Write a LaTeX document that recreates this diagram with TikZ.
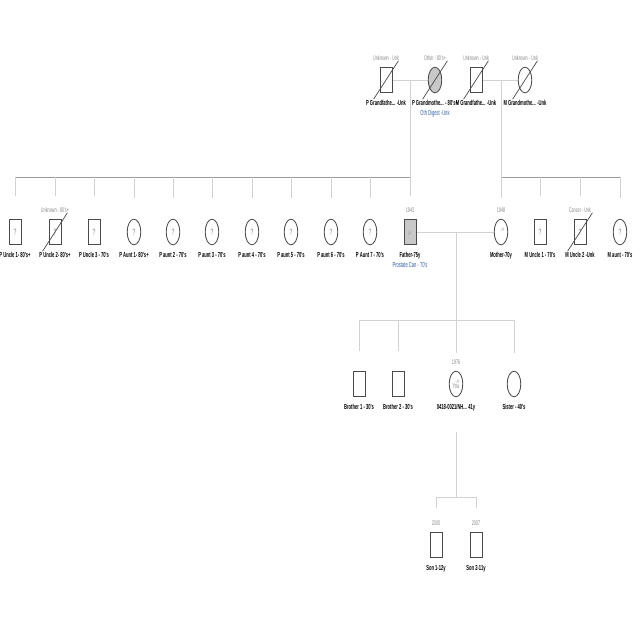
\documentclass[tikz,border=0pt]{standalone}
\usepackage{fontspec}
\setmainfont{Liberation Sans}
\newfontfamily\narrowfont[FakeStretch=0.56]{Liberation Sans}
\usetikzlibrary{shapes.geometric}
\pgfdeclarelayer{bg}
\pgfsetlayers{bg,main}
\definecolor{linegray}{HTML}{D2D2D2}
\definecolor{sibgray}{HTML}{9A9A9A}
\definecolor{shapegray}{HTML}{4A4A4A}
\definecolor{affgray}{HTML}{C8C8C8}
\definecolor{taggray}{HTML}{8A8A8A}
\definecolor{disblue}{HTML}{2E5FA6}
\tikzset{
    male/.style={draw=shapegray, line width=0.6pt, rectangle, fill=white, minimum width=0.3cm, minimum height=0.62cm, inner sep=0pt},
    female/.style={draw=shapegray, line width=0.6pt, ellipse, fill=white, minimum width=0.34cm, minimum height=0.64cm, inner sep=0pt},
    affected/.style={fill=affgray},
    pname/.style={font=\narrowfont\bfseries\fontsize{5.2}{7}\selectfont, inner sep=0pt, label distance=0.17cm},
    ptag/.style={font=\narrowfont\fontsize{4.8}{6}\selectfont, text=taggray, inner sep=0pt, label distance=0.16cm},
    unk/.style={font=\narrowfont\fontsize{6.5}{7}\selectfont, text=taggray},
    tested/.style={path picture={\node[font=\narrowfont\fontsize{4.2}{5}\selectfont, text=taggray, inner sep=0.6pt, anchor=north east] at ([yshift=-0.5pt]path picture bounding box.north east) {-/+};}},
    link/.style={draw=linegray, line width=0.5pt},
    sibline/.style={draw=sibgray, line width=0.5pt},
    slash/.style={draw=shapegray, line width=0.5pt}
}
\newcommand{\deceased}[1]{\draw[slash] ([shift={(-0.31cm,-0.48cm)}]#1.center) -- ([shift={(0.31cm,0.48cm)}]#1.center);}

\begin{document}
\begin{tikzpicture}[x=0.025cm, y=-0.025cm]
    \useasboundingbox (0,0) rectangle (640,640);

    % grandparents
    \node[male] (pgf) at (386,80) [label={[ptag]above:Unknown - Unk}, label={[pname]below:P Grandfathe... -Unk}] {};
    \node[female, affected] (pgm) at (435,80) [label={[ptag]above:Other - 80's+}, label={[pname, align=center]below:P Grandmothe... - 80's+\\{\color{disblue}\mdseries Oth Digest -Unk}}] {};
    \node[male] (mgf) at (476,80) [label={[ptag]above:Unknown - Unk}, label={[pname]below:M Grandfathe... -Unk}] {};
    \node[female] (mgm) at (525,80) [label={[ptag]above:Unknown - Unk}, label={[pname]below:M Grandmothe... -Unk}] {};

    % paternal side
    \node[male, unk] (pu1) at (15,232) [label={[pname]below:P Uncle 1- 80's+}] {?};
    \node[male, unk] (pu2) at (55,232) [label={[ptag]above:Unknown - 80's+}, label={[pname]below:P Uncle 2- 80's+}] {?};
    \node[male, unk] (pu3) at (94,232) [label={[pname]below:P Uncle 3 - 70's}] {?};
    \node[female, unk] (pa1) at (134,232) [label={[pname]below:P Aunt 1- 80's+}] {?};
    \node[female, unk] (pa2) at (173,232) [label={[pname]below:P aunt 2 - 70's}] {?};
    \node[female, unk] (pa3) at (212,232) [label={[pname]below:P aunt 3 - 70's}] {?};
    \node[female, unk] (pa4) at (252,232) [label={[pname]below:P aunt 4 - 70's}] {?};
    \node[female, unk] (pa5) at (291,232) [label={[pname]below:P aunt 5 - 70's}] {?};
    \node[female, unk] (pa6) at (331,232) [label={[pname]below:P aunt 6 - 70's}] {?};
    \node[female, unk] (pa7) at (370,232) [label={[pname]below:P Aunt 7 - 70's}] {?};
    \node[male, affected, tested] (father) at (410,232) [label={[ptag]above:1943}, label={[pname, align=center]below:Father-75y\\{\color{disblue}\mdseries Prostate Can - 70's}}] {};

    % maternal side
    \node[female, tested] (mother) at (501,232) [label={[ptag]above:1948}, label={[pname]below:Mother-70y}] {};
    \node[male, unk] (mu1) at (540,232) [label={[pname]below:M Uncle 1 - 70's}] {?};
    \node[male, unk] (mu2) at (580,232) [label={[ptag]above:Cancer - Unk}, label={[pname]below:M Uncle 2 -Unk}] {?};
    \node[female, unk] (ma) at (620,232) [label={[pname]below:M aunt - 70's}] {?};

    % siblings
    \node[male] (b1) at (359,384) [label={[pname]below:Brother 1 - 30's}] {};
    \node[male] (b2) at (398,384) [label={[pname]below:Brother 2 - 30's}] {};
    \node[female, tested, font=\narrowfont\fontsize{5}{6}\selectfont, text=taggray] (me) at (456,384) [label={[ptag]above:1976}, label={[pname]below:0418-0021/NH... 41y}] {\raisebox{-2.2ex}{You}};
    \node[female] (sis) at (514,384) [label={[pname]below:Sister - 40's}] {};

    % children
    \node[male] (s1) at (436,545) [label={[ptag]above:2000}, label={[pname]below:Son 1-12y}] {};
    \node[male] (s2) at (476,545) [label={[ptag]above:2007}, label={[pname]below:Son 2-11y}] {};

    \coordinate (pc) at (410,80);
    \coordinate (psib) at (410,177);
    \coordinate (mc) at (501,80);
    \coordinate (msib) at (501,177);
    \coordinate (fc) at (456,232);
    \coordinate (fsib) at (456,320);
    \coordinate (ctop) at (456,432);
    \coordinate (csib) at (456,497);

    \begin{pgfonlayer}{bg}
        \draw[link] (pgf) -- (pgm);
        \draw[link] (mgf) -- (mgm);
        \draw[link] (pc) -- (psib);
        \draw[link] (mc) -- (msib);
        \draw[sibline] (pu1 |- psib) -- (psib);
        \draw[sibline] (msib) -- (ma |- msib);
        \draw[link, shorten >=0.57cm] (pu1 |- psib) -- (pu1);
        \draw[link, shorten >=0.57cm] (pu2 |- psib) -- (pu2);
        \draw[link, shorten >=0.57cm] (pu3 |- psib) -- (pu3);
        \draw[link, shorten >=0.52cm] (pa1 |- psib) -- (pa1);
        \draw[link, shorten >=0.52cm] (pa2 |- psib) -- (pa2);
        \draw[link, shorten >=0.52cm] (pa3 |- psib) -- (pa3);
        \draw[link, shorten >=0.52cm] (pa4 |- psib) -- (pa4);
        \draw[link, shorten >=0.52cm] (pa5 |- psib) -- (pa5);
        \draw[link, shorten >=0.52cm] (pa6 |- psib) -- (pa6);
        \draw[link, shorten >=0.52cm] (pa7 |- psib) -- (pa7);
        \draw[link, shorten >=0.57cm] (psib) -- (father);
        \draw[link, shorten >=0.52cm] (msib) -- (mother);
        \draw[link, shorten >=0.57cm] (mu1 |- msib) -- (mu1);
        \draw[link, shorten >=0.57cm] (mu2 |- msib) -- (mu2);
        \draw[link, shorten >=0.52cm] (ma |- msib) -- (ma);

        \draw[link] (father) -- (mother);
        \draw[link] (fc) -- (fsib);
        \draw[link] (b1 |- fsib) -- (sis |- fsib);
        \draw[link, shorten >=0.5cm] (b1 |- fsib) -- (b1);
        \draw[link, shorten >=0.5cm] (b2 |- fsib) -- (b2);
        \draw[link, shorten >=0.45cm] (fsib) -- (me);
        \draw[link, shorten >=0.45cm] (sis |- fsib) -- (sis);

        \draw[link] (ctop) -- (csib);
        \draw[link] (s1 |- csib) -- (s2 |- csib);
        \draw[link, shorten >=0.6cm] (s1 |- csib) -- (s1);
        \draw[link, shorten >=0.6cm] (s2 |- csib) -- (s2);
    \end{pgfonlayer}

    \deceased{pgf}
    \deceased{pgm}
    \deceased{mgf}
    \deceased{mgm}
    \deceased{pu2}
    \deceased{mu2}
\end{tikzpicture}
\end{document}
